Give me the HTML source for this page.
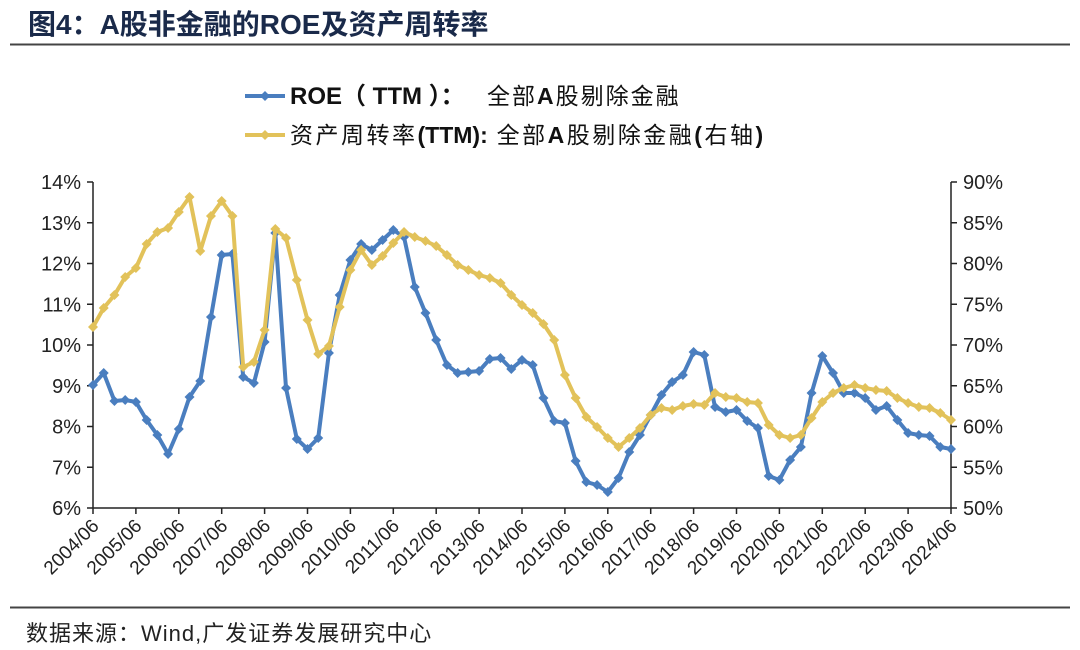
<!DOCTYPE html>
<html><head><meta charset="utf-8"><style>
body{margin:0;background:#fff;width:1080px;height:650px;overflow:hidden}
svg{display:block}
text{font-family:"Liberation Sans","Noto Sans CJK SC",sans-serif}
</style></head><body>
<svg id="s" width="1080" height="650" xmlns="http://www.w3.org/2000/svg">
<text x="28" y="34" font-size="28" font-weight="bold" fill="#1a2a4a">图4：A股非金融的ROE及资产周转率</text>
<line x1="10" y1="44.5" x2="1070" y2="44.5" stroke="#444" stroke-width="2"/>
<line x1="10" y1="607.5" x2="1070" y2="607.5" stroke="#444" stroke-width="2"/>
<text x="26" y="641" font-size="22" fill="#222" letter-spacing="1">数据来源：Wind,广发证券发展研究中心</text>
<line x1="245" y1="96" x2="285" y2="96" stroke="#4a7ebf" stroke-width="4"/>
<path d="M265 91 L270 96 L265 101 L260 96Z" fill="#4a7ebf"/>
<text x="290" y="104" font-size="24" font-weight="bold" fill="#111">ROE（ TTM ）：</text>
<text x="487" y="104" font-size="23" fill="#111" letter-spacing="2">全部<tspan font-weight="bold">A</tspan>股剔除金融</text>
<line x1="245" y1="135" x2="285" y2="135" stroke="#e2c25a" stroke-width="4"/>
<path d="M265 130 L270 135 L265 140 L260 135Z" fill="#e2c25a"/>
<text x="290" y="143" font-size="23" fill="#111" letter-spacing="2.5">资产周转率<tspan font-weight="bold" letter-spacing="0">(TTM):</tspan> 全部<tspan font-weight="bold">A</tspan>股剔除金融<tspan font-weight="bold">(</tspan>右轴<tspan font-weight="bold">)</tspan></text>
<g id="ax" stroke="#222" stroke-width="1.5"></g>
<g id="lab" font-size="20" fill="#222"></g>
<g id="ser"></g>
</svg>
<script>
var NS="http://www.w3.org/2000/svg",s=document.getElementById('s');
function el(p,t,a,txt){var e=document.createElementNS(NS,t);for(var k in a)e.setAttribute(k,a[k]);if(txt)e.textContent=txt;p.appendChild(e);return e}
var ax=document.getElementById('ax'),lab=document.getElementById('lab'),ser=document.getElementById('ser');
var X0=93,X1=951,Y0=182,Y1=508;
el(ax,'line',{x1:X0,y1:Y0,x2:X0,y2:Y1});
el(ax,'line',{x1:X1,y1:Y0,x2:X1,y2:Y1});
el(ax,'line',{x1:X0,y1:Y1,x2:X1,y2:Y1});
for(var i=0;i<=8;i++){var y=Y0+i*(Y1-Y0)/8;
 el(ax,'line',{x1:X0-6,y1:y,x2:X0,y2:y});el(ax,'line',{x1:X1,y1:y,x2:X1+6,y2:y});
 el(lab,'text',{x:X0-12,y:y+7,'text-anchor':'end'},(14-i)+'%');
 el(lab,'text',{x:X1+12,y:y+7},(90-5*i)+'%');}
var st=(X1-X0)/80;
for(var j=0;j<=20;j++){var x=X0+j*4*st;
 el(ax,'line',{x1:x,y1:Y1,x2:x,y2:Y1+6});
 el(lab,'text',{x:0,y:0,'text-anchor':'end','font-size':19,transform:'translate('+(x+7)+','+(Y1+19)+') rotate(-45)'},(2004+j)+'/06');}
var blue=[385,373,401,400,402,420,435,454,429,397,381,317,255,254,377,383,342,233,388,439,449,438,353,295,260,244,250,240,230,237,287,313,340,365,373,372,371,359,358,369,360,365,398,421,423,461,482,485,492,478,452,435,415,395,382,375,352,355,407,412,410,421,428,476,480,460,447,393,356,373,393,393,398,410,406,420,433,435,436,447,449];
var gold=[327,308,295,277,268,244,232,228,212,197,251,216,201,216,367,362,330,229,238,280,320,354,346,307,270,250,265,256,243,232,237,241,246,255,265,270,275,278,283,295,305,313,324,340,375,398,417,427,438,447,438,428,415,408,410,406,404,405,393,397,398,402,403,425,435,438,435,418,402,393,388,385,388,390,391,398,403,407,408,413,420];
function draw(d,c){var p=d.map(function(y,i){return (X0+i*st).toFixed(1)+','+y}).join(' ');
 el(ser,'polyline',{points:p,fill:'none',stroke:c,'stroke-width':4,'stroke-linejoin':'round'});
 d.forEach(function(y,i){var x=X0+i*st;el(ser,'path',{d:'M'+x+' '+(y-5)+' L'+(x+5)+' '+y+' L'+x+' '+(y+5)+' L'+(x-5)+' '+y+'Z',fill:c})});}
draw(blue,'#4a7ebf');draw(gold,'#e2c25a');
</script>
</body></html>
